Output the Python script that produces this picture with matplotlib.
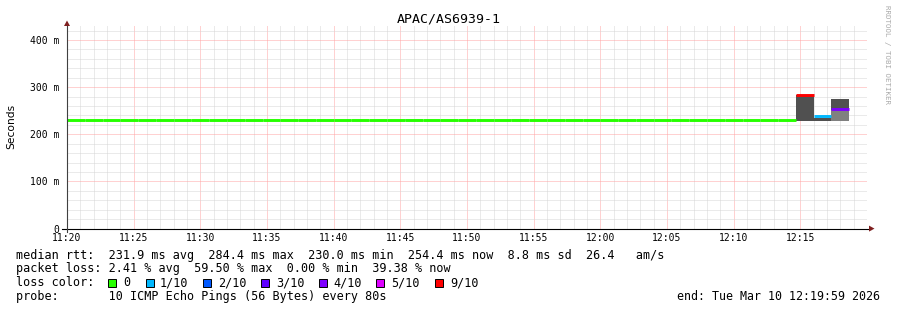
import numpy as np
import matplotlib
matplotlib.use("Agg")
import matplotlib.pyplot as plt
from matplotlib.patches import Polygon, Rectangle

# ---------------- data ----------------
title = "APAC/AS6939-1"
x_tick_labels = ["11:20", "11:25", "11:30", "11:35", "11:40", "11:45",
                 "11:50", "11:55", "12:00", "12:05", "12:10", "12:15"]
y_tick_values = [0, 100, 200, 300, 400]
y_tick_labels = ["0", "100 m", "200 m", "300 m", "400 m"]

step_seconds = 80  # probe interval

# median rtt per 80 s sample (ms), starting 11:20:00
median_ms = [230.0, 230.0, 230.0, 230.0, 230.0, 230.0, 230.0, 230.0, 230.0, 230.0,
             230.0, 230.0, 230.0, 230.0, 230.0, 230.0, 230.0, 230.0, 230.0, 230.0,
             230.0, 230.0, 230.0, 230.0, 230.0, 230.0, 230.0, 230.0, 230.0, 230.0,
             230.0, 230.0, 230.0, 230.0, 230.0, 230.0, 230.0, 230.0, 230.0, 230.0,
             230.0, 283.0, 238.0, 254.4]
# packet loss per sample (tenths)
loss_tenths = [0, 0, 0, 0, 0, 0, 0, 0, 0, 0,
               0, 0, 0, 0, 0, 0, 0, 0, 0, 0,
               0, 0, 0, 0, 0, 0, 0, 0, 0, 0,
               0, 0, 0, 0, 0, 0, 0, 0, 0, 0,
               0, 9, 1, 4]
# faint smoke (top of the ping spread) for quiet samples
faint_hi = [231, 231, 231, 231, 231, 231, 231, 231, 231, 233,
            231, 231, 231, 231, 231, 231, 231, 231, 231, 233,
            231, 231, 231, 231, 231, 233, 231, 231, 231, 231,
            231, 231, 231, 231, 231, 231, 231, 231, 231, 231,
            231, np.nan, np.nan, np.nan]
faint_lo = [229, 229, 229, 229, 229, 229, 229, 229, 229, 229,
            229, 229, 229, 229, 229, 229, 229, 229, 229, 229,
            229, 229, 229, 229, 229, 229, 229, 229, 229, 229,
            229, 229, 229, 229, 229, 229, 229, 229, 229, 229,
            229, np.nan, np.nan, np.nan]
# dark smoke band for the last samples
dark_lo = [np.nan] * 41 + [228.5, 228.5, 251.0]
dark_hi = [np.nan] * 41 + [283.0, 235.0, 275.0]
# medium smoke band
mid_lo = [np.nan] * 41 + [np.nan, np.nan, 228.5]
mid_hi = [np.nan] * 41 + [np.nan, np.nan, 251.0]

loss_colors = {0: "#26ff00", 1: "#00b8ff", 2: "#0059ff", 3: "#5e00ff",
               4: "#7e00ff", 5: "#dd00ff", 9: "#ff0000"}
legend_labels = ["0", "1/10", "2/10", "3/10", "4/10", "5/10", "9/10"]
legend_keys = [0, 1, 2, 3, 4, 5, 9]

line_rtt = "median rtt:  231.9 ms avg  284.4 ms max  230.0 ms min  254.4 ms now  8.8 ms sd  26.4   am/s"
line_loss = "packet loss: 2.41 % avg  59.50 % max  0.00 % min  39.38 % now"
line_probe = "probe:       10 ICMP Echo Pings (56 Bytes) every 80s"
end_text = "end: Tue Mar 10 12:19:59 2026"
watermark = "RRDTOOL / TOBI OETIKER"

# ---------------- figure ----------------
W, H = 897, 310
fig = plt.figure(figsize=(W / 100, H / 100), dpi=100)
fig.patch.set_facecolor("white")

def fx(px):
    return px / W

def fy(py):
    return 1 - py / H

X0, X1 = 67, 867
Y0, YT = 228.6, 25.0
PX_PER_MS = 0.4715
ymax = (Y0 - YT) / PX_PER_MS

ax = fig.add_axes([fx(X0), fy(Y0), (X1 - X0) / W, (Y0 - YT) / H])
ax.set_xlim(0, 60)
ax.set_ylim(0, ymax)
for s in ax.spines.values():
    s.set_visible(False)

mono = "DejaVu Sans Mono"

# grid
ax.set_xticks(np.arange(0, 60, 5))
ax.set_xticks(np.arange(0, 60, 1), minor=True)
ax.set_yticks(y_tick_values)
ax.set_yticks(np.arange(0, ymax, 20), minor=True)
ax.set_xticklabels(x_tick_labels, fontfamily=mono, fontsize=7)
ax.set_yticklabels(y_tick_labels, fontfamily=mono, fontsize=7)
ax.tick_params(which="both", length=0)
ax.tick_params(axis="x", pad=3.5)
ax.tick_params(axis="y", pad=5.5)
ax.grid(which="minor", color="#d6d6d6", linestyle=(0, (1, 1)), linewidth=0.72)
ax.grid(which="major", color="#ffa4a4", linestyle=(0, (1, 1)), linewidth=0.72)
ax.set_axisbelow(True)

# samples
step_min = step_seconds / 60.0
t = np.arange(len(median_ms)) * step_min

def bands(lo, hi, color):
    lo = np.asarray(lo, float)
    hi = np.asarray(hi, float)
    ok = ~np.isnan(lo) & ~np.isnan(hi)
    ax.bar(t[ok], hi[ok] - lo[ok], bottom=lo[ok], width=step_min, align="edge",
           color=color, linewidth=0, zorder=2)

bands(faint_lo, faint_hi, "#c4c4c4")
bands(mid_lo, mid_hi, "#808080")
bands(dark_lo, dark_hi, "#505050")

cols = [loss_colors[l] for l in loss_tenths]
ax.hlines(median_ms, t, t + step_min, colors=cols, linewidth=2.1,
          capstyle="butt", zorder=3)

# axis lines and arrows
ax.plot([-5 / 800, 804 / 800], [0, 0], transform=ax.transAxes, color="black",
        lw=0.8, clip_on=False, zorder=4)
ax.plot([0, 0], [-3.5 / (Y0 - YT), 1.0], transform=ax.transAxes, color="#404040",
        lw=0.8, clip_on=False, zorder=4)
arrow_col = "#7f1f1f"
fig.patches.append(Polygon([(fx(67), fy(20.5)), (fx(64), fy(26)), (fx(70), fy(26))],
                           closed=True, transform=fig.transFigure,
                           facecolor=arrow_col, edgecolor="none"))
fig.patches.append(Polygon([(fx(874.5), fy(228.6)), (fx(869), fy(225.6)), (fx(869), fy(231.6))],
                           closed=True, transform=fig.transFigure,
                           facecolor=arrow_col, edgecolor="none"))

# titles
fig.text(0.5, fy(19), title, ha="center", va="center", fontfamily=mono, fontsize=9.5)
fig.text(fx(11), fy(126), "Seconds", rotation=90, ha="center", va="center",
         fontfamily="DejaVu Sans", fontsize=7.7)
fig.text(fx(887), fy(5), watermark, rotation=270, ha="center", va="top",
         fontfamily=mono, fontsize=5.4, color="#aaaaaa")

# legend block
fs = 8.5
fig.text(fx(16), fy(255), line_rtt, ha="left", va="center", fontfamily=mono, fontsize=fs)
fig.text(fx(16), fy(268.5), line_loss, ha="left", va="center", fontfamily=mono, fontsize=fs)
fig.text(fx(16), fy(282.5), "loss color:", ha="left", va="center", fontfamily=mono, fontsize=fs)
fig.text(fx(16), fy(296.5), line_probe, ha="left", va="center", fontfamily=mono, fontsize=fs)
fig.text(fx(880), fy(296.5), end_text, ha="right", va="center", fontfamily=mono, fontsize=8.4)

sq_x = [108, 146, 203, 261, 319, 376, 435]
lab_x = [123, 160, 218, 276, 333, 391, 450]
for key, lab, sx, lx in zip(legend_keys, legend_labels, sq_x, lab_x):
    fig.patches.append(Rectangle((fx(sx), fy(287)), 8 / W, 8 / H,
                                 transform=fig.transFigure,
                                 facecolor=loss_colors[key], edgecolor="black", linewidth=0.7))
    fig.text(fx(lx), fy(282.5), lab, ha="left", va="center", fontfamily=mono, fontsize=fs)

fig.savefig("out.png", dpi=100, facecolor="white")
